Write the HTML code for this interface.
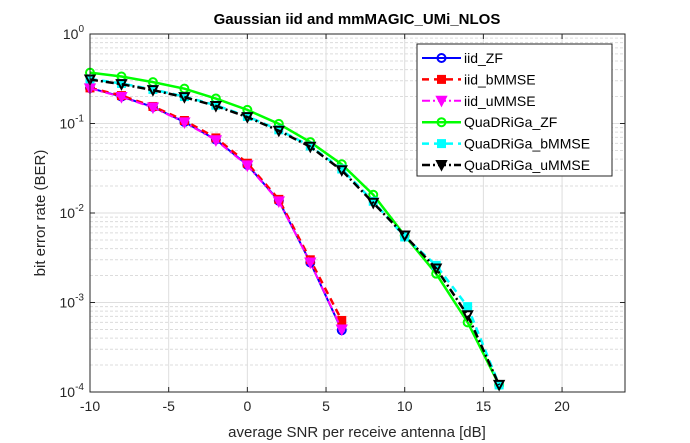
<!DOCTYPE html>
<html><head><meta charset="utf-8"><style>
body{margin:0;background:#fff;}
svg{display:block;font-family:"Liberation Sans",Arial,sans-serif;}
</style></head><body>
<svg id="chart" width="690" height="443" viewBox="0 0 690 443">
<rect x="0" y="0" width="690" height="443" fill="#fff"/>
<g id="grid"></g>
<g id="series"></g>
<g id="axes"></g>
<g id="legend"></g>
</svg>
<script>
const snr = [-10,-8,-6,-4,-2,0,2,4,6,8,10,12,14,16];
const iidZF = [0.249,0.2,0.153,0.104,0.066,0.0345,0.0137,0.0028,0.00049];
const iidB = [0.25,0.205,0.155,0.108,0.069,0.036,0.0142,0.003,0.00063];
const iidU = [0.247,0.198,0.151,0.103,0.065,0.034,0.0135,0.0028,0.0005];
const qZF = [0.37,0.335,0.29,0.245,0.19,0.142,0.099,0.062,0.035,0.016,0.0056,0.0021,0.0006,0.00012];
const qB = [0.315,0.28,0.24,0.2,0.16,0.12,0.085,0.056,0.031,0.0135,0.0054,0.0026,0.0009,0.00012];
const qU = [0.31,0.275,0.236,0.197,0.157,0.118,0.083,0.055,0.030,0.013,0.0056,0.0024,0.00072,0.00012];
const xTicks = [-10,-5,0,5,10,15,20];
const yTickExps = [0,-1,-2,-3,-4];
const seriesNames = ["iid_ZF","iid_bMMSE","iid_uMMSE","QuaDRiGa_ZF","QuaDRiGa_bMMSE","QuaDRiGa_uMMSE"];

const NS="http://www.w3.org/2000/svg";
const L=90,R=625,T=34,B=392,xmin=-10,xmax=24;
const sx=v=>L+(v-xmin)/(xmax-xmin)*(R-L);
const sy=v=>T+(-Math.log10(v))/4*(B-T);
function mk(tag,attrs,parent){const e=document.createElementNS(NS,tag);for(const k in attrs)e.setAttribute(k,attrs[k]);parent.appendChild(e);return e;}
const grid=document.getElementById('grid'),axes=document.getElementById('axes'),ser=document.getElementById('series'),leg=document.getElementById('legend');

for(let e=0;e>-4;e--){for(let m=2;m<=9;m++){const y=sy(m*Math.pow(10,e-1));
 const g=mk('line',{x1:L,x2:R,y1:y,y2:y,stroke:'#dcdcdc','stroke-width':1,'stroke-dasharray':'3,2'},grid);
 
 }}
xTicks.forEach(t=>{const x=sx(t);
 const g=mk('line',{x1:x,x2:x,y1:T,y2:B,stroke:'#dedede','stroke-width':1},grid);
 
 
 mk('line',{x1:x,x2:x,y1:B,y2:B-5,stroke:'#262626'},axes);
 mk('line',{x1:x,x2:x,y1:T,y2:T+5,stroke:'#262626'},axes);
 const tx=mk('text',{x:x,y:B+19,'text-anchor':'middle','font-size':14,fill:'#262626'},axes);
 tx.textContent=t;
 
 });
yTickExps.forEach(e=>{const y=sy(Math.pow(10,e));
 const g=mk('line',{x1:L,x2:R,y1:y,y2:y,stroke:'#dedede','stroke-width':1},grid);
 
 
 mk('line',{x1:L,x2:L+5,y1:y,y2:y,stroke:'#262626'},axes);
 mk('line',{x1:R,x2:R-5,y1:y,y2:y,stroke:'#262626'},axes);
 const tx=mk('text',{x:L-6,y:y+5,'text-anchor':'end','font-size':14,fill:'#262626'},axes);
 
 
 tx.innerHTML='10<tspan dy="-7" font-size="10">'+e+'</tspan>';});
const box=mk('rect',{x:L,y:T,width:R-L,height:B-T,fill:'none',stroke:'#262626','stroke-width':1},axes);



function marker(kind,x,y,color,fill,parent){
 if(kind==='o')return mk('circle',{cx:x,cy:y,r:4,fill:fill,stroke:color,'stroke-width':2},parent);
 if(kind==='s')return mk('rect',{x:x-3.5,y:y-3.5,width:7,height:7,fill:fill,stroke:color,'stroke-width':2},parent);
 return mk('polygon',{points:`${x-4.5},${y-4} ${x+4.5},${y-4} ${x},${y+4.5}`,fill:fill,stroke:color,'stroke-width':2},parent);}
const styles=[
 {d:iidZF,c:'#0000ff',dash:'',m:'o',f:'none',w:2},
 {d:iidB,c:'#ff0000',dash:'7,5',m:'s',f:'#ff0000',w:2.5},
 {d:iidU,c:'#ff00ff',dash:'8,3,2,3',m:'v',f:'#ff00ff',w:2},
 {d:qZF,c:'#00ff00',dash:'',m:'o',f:'none',w:2.5},
 {d:qB,c:'#00ffff',dash:'7,5',m:'s',f:'#00ffff',w:2.5},
 {d:qU,c:'#000000',dash:'8,3,2,3',m:'v',f:'none',w:2.5}];
styles.forEach((s,i)=>{
 const g=mk('g',{},ser);
 
 
 const pts=s.d.map((v,j)=>sx(snr[j])+','+sy(v)).join(' ');
 mk('polyline',{points:pts,fill:'none',stroke:s.c,'stroke-width':s.w,'stroke-dasharray':s.dash},g);
 s.d.forEach((v,j)=>{const m=marker(s.m,sx(snr[j]),sy(v),s.c,s.f,g);
  
  });
 const ly=58+i*21.4;
 const lg=mk('g',{},leg);
 
 
 mk('line',{x1:422,x2:461,y1:ly,y2:ly,stroke:s.c,'stroke-width':s.w,'stroke-dasharray':s.dash},lg);
 marker(s.m,441.5,ly,s.c,s.m==='o'?'none':s.c,lg);
 const t=mk('text',{x:464,y:ly+5,'font-size':14,fill:'#000'},lg);
 t.textContent=seriesNames[i];
});
const lb=mk('rect',{x:417,y:44,width:195,height:132,fill:'none',stroke:'#262626'},leg);


leg.insertBefore(mk('rect',{x:417,y:44,width:195,height:132,fill:'#fff'},leg),leg.firstChild);
let t=mk('text',{x:357,y:24,'text-anchor':'middle','font-size':15,'font-weight':'bold',fill:'#000'},axes);
t.textContent='Gaussian iid and mmMAGIC_UMi_NLOS';


t=mk('text',{x:357,y:437,'text-anchor':'middle','font-size':15,fill:'#262626'},axes);
t.textContent='average SNR per receive antenna [dB]';


t=mk('text',{x:0,y:0,'text-anchor':'middle','font-size':15,fill:'#262626',transform:'translate(45,213) rotate(-90)'},axes);
t.textContent='bit error rate (BER)';


</script>
</body></html>
